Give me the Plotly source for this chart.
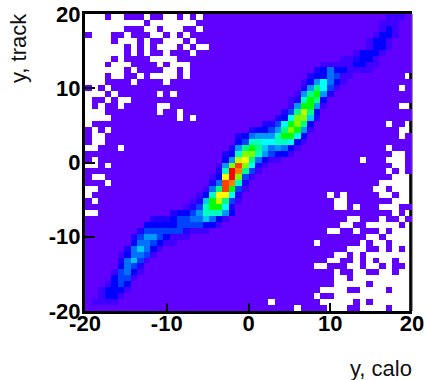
import plotly.graph_objects as go

N_BINS = 50
AXIS_MIN = -20
AXIS_MAX = 20
TICKS = [-20, -10, 0, 10, 20]
TICK_TEXT = ["-20", "-10", "0", "10", "20"]
X_TITLE = "y, calo"
Y_TITLE = "y, track"

# Row 0 is the top row of the picture. Cells listed here are empty (white).
EMPTY_CELLS = [
    [0,1,2,4,5,9,12,13,15,17],
    [0,1,2,3,4,5,6,7,8,10,11,12,13,14,15,16],
    [0,1,2,3,4,5,9,10,12,13,14,17],
    [1,2,3,6,10,11,13,15],
    [0,1,2,3,5,6,7,9,12,13,14,16],
    [0,1,2,3,4,5,7,9,11,12,13,15,17,18],
    [0,1,2,3,4,5,7,9,12,16],
    [0,1,2,3,5,10,11,12,13],
    [0,1,2,4,5,6,11,13,14,15],
    [0,1,2,3,4,5,7,12,13,15],
    [0,1,2,4,5,8,10,11,12,13,15,49],
    [0,1,2,7,12],
    [1,3,48],
    [0,1,2,4,11,13],
    [0,3,5,6],
    [0,2,5,11,12,48,49],
    [0,1,2,11,14],
    [0,1,2,3,14,16],
    [0,46,49],
    [1,3,48,49],
    [1,2,48],
    [1,2],
    [0,1,5,46],
    [47,48],
    [1,42,46,47,48],
    [0,1,3,47,48],
    [46,48],
    [1,2,47,48,49],
    [3,45,46,47,48,49],
    [0,1,44,45,47,48,49],
    [0,37,39,45,46,48,49],
    [1,38,39,47,48,49],
    [38,39,41,45,46,47],
    [0,1,47,49],
    [40,41,45,48],
    [39,40,43,44,45,46,47,49],
    [37,38,41,45,47,48,49],
    [43,44,46,47,48,49],
    [35,42,44,45,47,48,49],
    [40,41,42,45,47,49],
    [38,39,41,43,44,45,46,47,48,49],
    [37,38,41,43,45,46,48,49],
    [35,36,40,41,43,44,46,49],
    [38,41,42,45,46,48,49],
    [38,39,41,42,43,44,45,46,47,48,49],
    [38,39,40,41,42,44,45,46,47,48,49],
    [36,37,38,39,42,43,44,45,47,48,49],
    [35,38,39,40,41,42,43,44,45,46,47,48,49],
    [28,36,37,38,39,40,42,44,45,46,47,48,49],
    [32,37,38,39,42,43,44,45,47,48,49],
]

# First column of the populated band in each row, then its levels (base 36).
BAND_START = [46,45,45,44,43,43,41,39,36,35,34,33,33,32,31,31,30,29,27,25,
              23,23,22,21,21,20,20,19,19,18,17,16,15,13,10,9,8,7,7,6,
              5,5,5,4,4,3,2,2,1,0]
BAND_LEVELS = [
    "111","111","131","1331","1331","1331","13331","112331","111113311",
    "235331111","2335411","1368531","26a841","16ab62","129ba3","16bb61",
    "24ada3","238cc72","2248bca3","23346acb61","2356669bb83","34998899831",
    "26aba756531","239cc964331","36dea5311","16cgc821","29hfa41","13ehc41",
    "25gf92","15agb41","139ee82","127bda41","1249bb82","2334699963",
    "222344557531","333334444331","24444442111","246643111","3554311",
    "257531","135541","25741","3542","14531","3441","1343","13331","1331",
    "1111","",
]

PALETTE = ["#6000FF","#4000FF","#2000FF","#0000FF","#0040FF","#0070FF",
           "#0098FF","#00C8FF","#00FFFF","#00FFC0","#00FF80","#00FF00",
           "#80FF00","#C0FF00","#FFFF00","#FF8000","#FF4000","#FF0000"]

z = []
for row in range(N_BINS):
    cells = [0] * N_BINS
    for k, ch in enumerate(BAND_LEVELS[row]):
        cells[BAND_START[row] + k] = int(ch, 36)
    for c in EMPTY_CELLS[row]:
        cells[c] = None
    z.append(cells)

width = (AXIS_MAX - AXIS_MIN) / N_BINS
m = len(PALETTE)
scale = []
for i, c in enumerate(PALETTE):
    scale += [[i / m, c], [(i + 1) / m, c]]

fig = go.Figure(go.Heatmap(
    z=z, x0=AXIS_MIN + width / 2, dx=width,
    y0=AXIS_MAX - width / 2, dy=-width,
    zmin=-0.5, zmax=m - 0.5, colorscale=scale, showscale=False,
    xgap=0, ygap=0, hoverongaps=False,
))

tick_font = dict(family="Liberation Sans", size=22, color="black", weight=700)
common = dict(range=[AXIS_MIN, AXIS_MAX], tickmode="array", tickvals=TICKS, ticktext=TICK_TEXT,
              ticks="inside", tickcolor="black", showgrid=False, zeroline=False, automargin=False,
              showline=True, linecolor="black", linewidth=3, tickfont=tick_font)
fig.update_xaxes(mirror=True, ticklen=8, tickwidth=2, ticklabelstandoff=-9, **common)
fig.update_yaxes(mirror=False, ticklen=10, tickwidth=2, ticklabelstandoff=-3, **common)

fig.add_shape(type="line", xref="paper", yref="paper", x0=0.996, x1=0.996, y0=0, y1=1,
              line=dict(color="black", width=3), layer="below")
fig.add_shape(type="line", xref="paper", yref="paper", x0=1.001, x1=1.001, y0=0, y1=1,
              line=dict(color="#888888", width=1), layer="above")

title_font = dict(family="Liberation Sans", size=22, color="#111111")
fig.add_annotation(text=X_TITLE, xref="paper", yref="paper", x=1, y=-0.145, xshift=2,
                   xanchor="right", yanchor="top", showarrow=False, font=title_font)
fig.add_annotation(text=Y_TITLE, xref="paper", yref="paper", x=-0.205, y=1.01,
                   xanchor="center", yanchor="top", textangle=-90, showarrow=False, font=title_font)

fig.update_layout(width=425, height=380, margin=dict(l=85, r=13, t=14, b=69, autoexpand=False),
                  paper_bgcolor="white", plot_bgcolor="white", showlegend=False)
fig.write_html("out.html", config=dict(displayModeBar=False),
               post_script="document.body.style.margin='0';document.body.style.overflow='hidden';")
